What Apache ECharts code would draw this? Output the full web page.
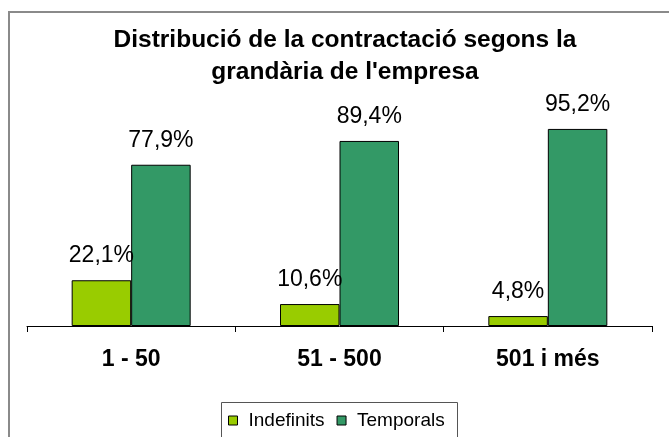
<!DOCTYPE html>
<html>
<head>
<meta charset="utf-8">
<script src="https://cdn.jsdelivr.net/npm/echarts@6/dist/echarts.min.js"></script>
<style>html,body{margin:0;padding:0;background:#fff}#c{width:669px;height:437px}</style>
</head>
<body>
<div id="c"></div>
<script>
const titleText = "Distribució de la contractació segons la\ngrandària de l'empresa";
const categories = ["1 - 50", "51 - 500", "501 i més"];
const seriesNames = ["Indefinits", "Temporals"];
const indefinits = [22.1, 10.6, 4.8];
const temporals = [77.9, 89.4, 95.2];

const chart = echarts.init(document.getElementById('c'), null, {renderer: 'canvas'});
const fmt = p => p.value.toFixed(1).replace('.', ',') + '%';
const labelStyle = {show: true, position: 'top', distance: 13, formatter: fmt,
  fontFamily: 'Liberation Sans', fontSize: 23, color: '#000'};
chart.setOption({
  animation: false,
  backgroundColor: '#fff',
  title: {
    text: titleText, left: 345, top: 24, padding: 0, textAlign: 'center',
    textStyle: {fontFamily: 'Liberation Sans', fontWeight: 'bold', fontSize: 24.5, lineHeight: 32, color: '#000'}
  },
  graphic: [
    {type: 'rect', shape: {x: 9, y: 12, width: 700, height: 500}, style: {fill: 'none', stroke: '#8a8a8a', lineWidth: 2}, silent: true, z: 100},
    {type: 'rect', shape: {x: 221.5, y: 402.5, width: 236, height: 60}, style: {fill: 'none', stroke: '#555', lineWidth: 1}, silent: true, z: 100}
  ],
  legend: {
    data: seriesNames, left: 228, top: 411, padding: 0, itemGap: 12,
    icon: 'rect', itemWidth: 9, itemHeight: 9,
    itemStyle: {borderColor: '#000', borderWidth: 1},
    textStyle: {fontFamily: 'Liberation Sans', fontSize: 19, color: '#000', padding: [0, 0, 0, 6]}
  },
  grid: {left: 27, right: 17, top: 119, bottom: 111, containLabel: false},
  xAxis: {
    type: 'category', data: categories,
    axisLine: {lineStyle: {color: '#000', width: 1}},
    axisTick: {show: true, length: 6, lineStyle: {color: '#000'}},
    axisLabel: {margin: 22, fontFamily: 'Liberation Sans', fontWeight: 'bold', fontSize: 23, color: '#000'}
  },
  yAxis: {type: 'value', min: 0, max: 100, show: false, splitLine: {show: false}},
  series: [
    {name: seriesNames[0], type: 'bar', data: indefinits, barWidth: 59.5, barGap: '0%',
     itemStyle: {color: '#99cc00', borderColor: '#000', borderWidth: 1}, label: labelStyle},
    {name: seriesNames[1], type: 'bar', data: temporals, barWidth: 59.5, barGap: '0%',
     itemStyle: {color: '#339966', borderColor: '#000', borderWidth: 1}, label: labelStyle}
  ]
});
</script>
</body>
</html>
